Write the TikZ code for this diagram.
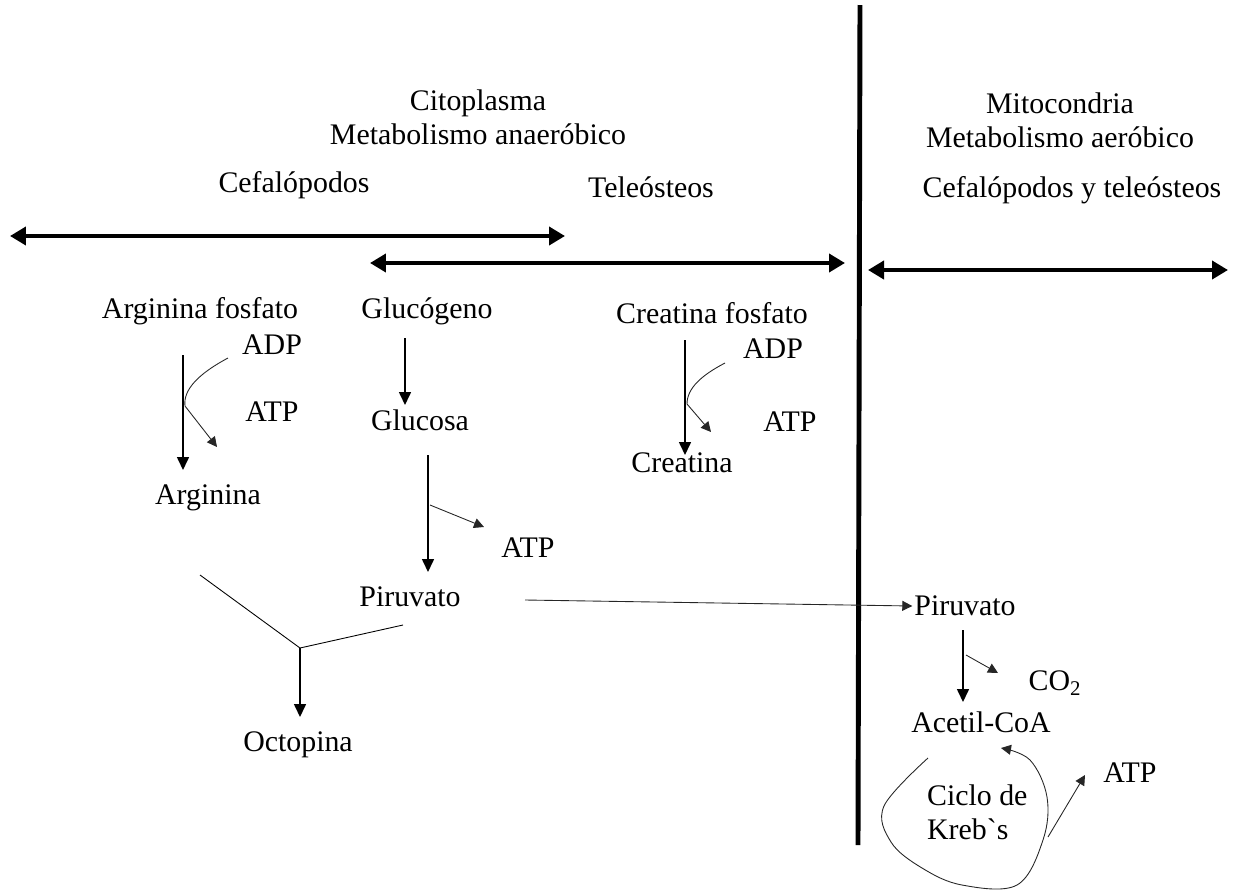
\documentclass[tikz,border=0pt]{standalone}
\usepackage{fontspec}
\setmainfont{Liberation Serif}
\usetikzlibrary{arrows.meta,positioning}
\newcommand{\backtick}{{\addfontfeatures{Ligatures=TeXOff}`}}

\begin{document}
\begin{tikzpicture}[
    x=0.02cm,y=-0.02cm,
    lbl/.style={inner sep=1pt,align=center,
        font=\fontsize{17}{19.5}\selectfont},
    react/.style={-{Triangle[length=2.6mm,width=2.4mm]},line width=0.9pt},
    side/.style={-{Triangle[length=2mm,width=2mm]},line width=0.5pt,black!85},
    span/.style={{Triangle[length=3.2mm,width=3.6mm]}-{Triangle[length=3.2mm,width=3.6mm]},
        line width=2.2pt},
    wall/.style={line width=2.8pt}
]
\useasboundingbox (0,0) rectangle (1252,890);

% headings
\node[lbl] (cito) at (478,117) {Citoplasma\\Metabolismo anaeróbico};
\node[lbl] (mito) at (1060,120) {Mitocondria\\Metabolismo aeróbico};
\node[lbl] (cefa) at (294,185) {Cefalópodos};
\node[lbl] (tele) at (651,187) {Teleósteos};
\node[lbl] (ambos) at (1072,190) {Cefalópodos y teleósteos};

% ranges and membrane
\coordinate (r1a) at (10,236);  \coordinate (r1b) at (565,236);
\coordinate (r2a) at (370,263); \coordinate (r2b) at (845,263);
\coordinate (r3a) at (868,270); \coordinate (r3b) at (1228,270);
\coordinate (wtop) at (860,5);  \coordinate (wbot) at (858,845);
\draw[span] (r1a) -- (r1b);
\draw[span] (r2a) -- (r2b);
\draw[span] (r3a) -- (r3b);
\draw[wall] (wtop) -- (wbot);

% arginina fosfato
\node[lbl] (argp) at (200,311) {Arginina fosfato};
\node[lbl] (adp1) at (272,345) {ADP};
\node[lbl] (atp1) at (272,412) {ATP};
\node[lbl] (arg) at (208,498) {Arginina};
\coordinate (a1) at (183,355);
\coordinate (a2) at (183,470);
\draw[react] (a1) -- (a2);
\coordinate (b1) at (228,358);
\coordinate (b2) at (217,447);
\draw[side] (b1) .. controls (198,374) and (183,390) .. (185,406) -- (b2);

% glucogeno
\node[lbl] (gluc) at (427,311) {Glucógeno};
\node[lbl] (glu) at (420,420) {Glucosa};
\node[lbl] (atp2) at (528,548) {ATP};
\node[lbl] (piru) at (410,597) {Piruvato};
\coordinate (g1) at (405,338);
\coordinate (g2) at (405,405);
\draw[react] (g1) -- (g2);
\coordinate (g3) at (428,455);
\coordinate (g4) at (428,572);
\draw[react] (g3) -- (g4);
\coordinate (g5) at (430,505);
\coordinate (g6) at (484,527);
\draw[side] (g5) -- (g6);

% creatina fosfato
\node[lbl] (crp) at (712,313) {Creatina fosfato};
\node[lbl] (adp3) at (773,349) {ADP};
\node[lbl] (atp3) at (790,422) {ATP};
\node[lbl] (cr) at (682,463) {Creatina};
\coordinate (c1) at (685,340);
\coordinate (c2) at (685,455);
\draw[react] (c1) -- (c2);
\coordinate (d1) at (725,363);
\coordinate (d2) at (711,432);
\draw[side] (d1) .. controls (702,375) and (687,388) .. (687,404) -- (d2);

% octopina
\node[lbl] (octo) at (298,745) {Octopina};
\coordinate (y1) at (200,575);
\coordinate (y0) at (300,648);
\coordinate (y2) at (403,625);
\coordinate (y3) at (300,717);
\draw[line width=0.5pt] (y1) -- (y0) -- (y2);
\draw[react] (y0) -- (y3);

% mitocondria
\node[lbl] (pirm) at (965,606) {Piruvato};
\node[lbl] (co2) at (1055,683) {CO\textsubscript{2}};
\node[lbl] (acoa) at (981,722) {Acetil-CoA};
\node[lbl,align=left,anchor=west] (kreb) at (925,812) {Ciclo de\\Kreb\backtick s};
\node[lbl] (atp4) at (1130,773) {ATP};
\coordinate (p1) at (525,600);
\draw[side] (p1) -- (pirm.west);
\coordinate (m1) at (963,630);
\coordinate (m2) at (963,702);
\draw[react] (m1) -- (m2);
\coordinate (m3) at (966,655);
\coordinate (m4) at (998,673);
\draw[side] (m3) -- (m4);
\draw[side] plot[smooth,tension=0.6] coordinates {(928,758) (884,806) (891,842)
    (922,868) (962,885) (1017,885) (1043,840) (1047,797) (1030,760) (1001,748)};
\coordinate (k1) at (1048,837);
\coordinate (k2) at (1085,775);
\draw[side] (k1) -- (k2);
\end{tikzpicture}
\end{document}
